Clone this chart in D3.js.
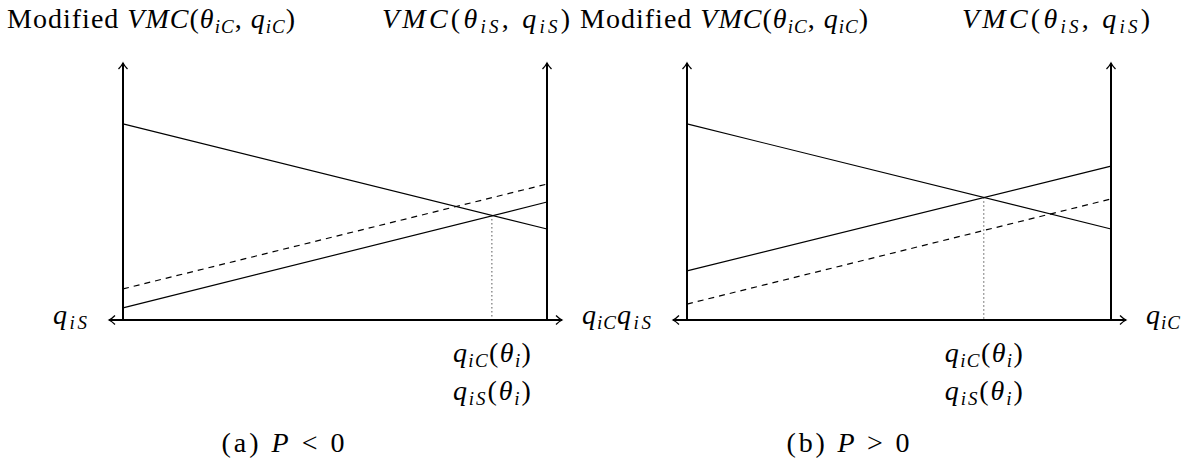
<!DOCTYPE html>
<head>
    <meta charset="utf-8">
    <script src="https://d3js.org/d3.v7.min.js"></script>
    <style>
        body {
            margin: 0;
            background: white;
        }
        text {
            font-family: "Liberation Serif", serif;
            font-size: 28px;
            fill: black;
        }
    </style>
</head>

<body>
<svg id="chart" width=1187 height=462></svg>
<script>

    // share of the q axis (0 = left axis, 1 = right axis) and curve heights, one entry per panel
    const panelIds = ["a", "b"];
    const qEnds = [0, 1];
    const modifiedVmcC = [[0.763, 0.354], [0.763, 0.354]];   // falling solid line
    const vmcS = [[0.047, 0.459], [0.191, 0.599]];            // rising solid line
    const vmcSOther = [[0.121, 0.529], [0.062, 0.471]];       // rising dashed line
    const crossQ = [0.87, 0.70];                              // where the solid lines meet

    // text pieces: [string, kind] with kind r = roman, i = italic, s = subscript
    const leftTitle = [["Modified ", "r"], ["VMC", "i"], ["(", "r"], ["θ", "i"], ["iC", "s"],
        [", ", "r"], ["q", "i"], ["iC", "s"], [")", "r"]];
    const rightTitle = [["VMC", "i"], ["(", "r"], ["θ", "i"], ["iS", "s"], [", ", "r"],
        ["q", "i"], ["iS", "s"], [")", "r"]];
    const leftAxisName = [["q", "i"], ["iS", "s"]];
    const rightAxisName = [["q", "i"], ["iC", "s"]];
    const crossLabels = [
        [["q", "i"], ["iC", "s"], ["(", "r"], ["θ", "i"], ["i", "s"], [")", "r"]],
        [["q", "i"], ["iS", "s"], ["(", "r"], ["θ", "i"], ["i", "s"], [")", "r"]]
    ];
    const captions = [
        [["(a) ", "r"], ["P", "i"], [" < 0", "r"]],
        [["(b) ", "r"], ["P", "i"], [" > 0", "r"]]
    ];

    const svg = d3.select("#chart");
    const panelLeft = [123, 687];
    const panelWidth = 424;
    const baseY = 320, topY = 63;
    // where the titles start / end, per panel
    const titleLeftStart = [7, 580];
    const titleRightEnd = [570, 1150];
    const captionX = [283, 848];

    const y = d3.scaleLinear().domain([0, 1]).range([baseY, topY]);

    // width: stretch the run to the width the TeX fonts take
    function mathText(g, x, yy, anchor, parts, width) {
        let t = g.append("text")
            .attr("x", x)
            .attr("y", yy)
            .attr("text-anchor", anchor);
        let down = false;
        parts.forEach(function (p) {
            let sp = t.append("tspan").text(p[0]);
            if (p[1] === "s") {
                sp.attr("font-size", 19).attr("font-style", "italic");
                if (!down) {
                    sp.attr("dy", 5);
                    down = true;
                }
            } else {
                if (down) {
                    sp.attr("dy", -5);
                    down = false;
                }
                if (p[1] === "i") sp.attr("font-style", "italic");
            }
        });
        if (width) t.attr("textLength", width).attr("lengthAdjust", "spacing");
        return t;
    }

    // latex style arrow tip pointing up, drawn at origin
    const tip = "M-4.5,6 Q-1.5,3 0,0 Q1.5,3 4.5,6";

    panelIds.forEach(function (id, i) {
        let g = svg.append("g").attr("class", "panel-" + id);
        let x = d3.scaleLinear().domain([0, 1]).range([panelLeft[i], panelLeft[i] + panelWidth]);

        let line = d3.line()
            .x(function (d) { return x(d[0]) })
            .y(function (d) { return y(d[1]) });

        let curves = [
            {vals: modifiedVmcC[i], dash: null},
            {vals: vmcS[i], dash: null},
            {vals: vmcSOther[i], dash: "6,5"}
        ];
        curves.forEach(function (c) {
            g.append("path")
                .datum(qEnds.map(function (q, k) { return [q, c.vals[k]] }))
                .attr("d", line)
                .attr("fill", "none")
                .attr("stroke", "black")
                .attr("stroke-width", 1.2)
                .attr("stroke-dasharray", c.dash);
        });

        // dotted drop from the crossing
        let m0 = modifiedVmcC[i];
        let crossY = m0[0] + (m0[1] - m0[0]) * crossQ[i];
        g.append("line")
            .attr("x1", x(crossQ[i])).attr("x2", x(crossQ[i]))
            .attr("y1", y(crossY)).attr("y2", y(0))
            .attr("stroke", "black")
            .attr("stroke-width", 1)
            .attr("stroke-dasharray", "1,3");

        // axes
        [0, 1].forEach(function (q) {
            g.append("line")
                .attr("x1", x(q)).attr("x2", x(q))
                .attr("y1", y(0)).attr("y2", y(1))
                .attr("stroke", "black")
                .attr("stroke-width", 2);
            g.append("path")
                .attr("d", tip)
                .attr("transform", "translate(" + x(q) + "," + y(1) + ")")
                .attr("fill", "none")
                .attr("stroke", "black")
                .attr("stroke-width", 1.3);
        });
        g.append("line")
            .attr("x1", x(0) - 14).attr("x2", x(1) + 15)
            .attr("y1", y(0)).attr("y2", y(0))
            .attr("stroke", "black")
            .attr("stroke-width", 2.2);
        g.append("path")
            .attr("d", tip)
            .attr("transform", "translate(" + (x(0) - 14) + "," + y(0) + ") rotate(-90)")
            .attr("fill", "none").attr("stroke", "black").attr("stroke-width", 1.3);
        g.append("path")
            .attr("d", tip)
            .attr("transform", "translate(" + (x(1) + 15) + "," + y(0) + ") rotate(90)")
            .attr("fill", "none").attr("stroke", "black").attr("stroke-width", 1.3);

        // labels
        mathText(g, titleLeftStart[i], 28, "start", leftTitle, 288);
        mathText(g, titleRightEnd[i], 28, "end", rightTitle, 188);
        mathText(g, x(0) - 36, y(0) + 4, "end", leftAxisName, 34);
        mathText(g, x(1) + 35, y(0) + 4, "start", rightAxisName, 34);
        mathText(g, x(crossQ[i]), 362, "middle", crossLabels[0], 78);
        mathText(g, x(crossQ[i]), 400, "middle", crossLabels[1], 78);
        mathText(g, captionX[i], 452, "middle", captions[i], 123);
    });

</script>

</body>
